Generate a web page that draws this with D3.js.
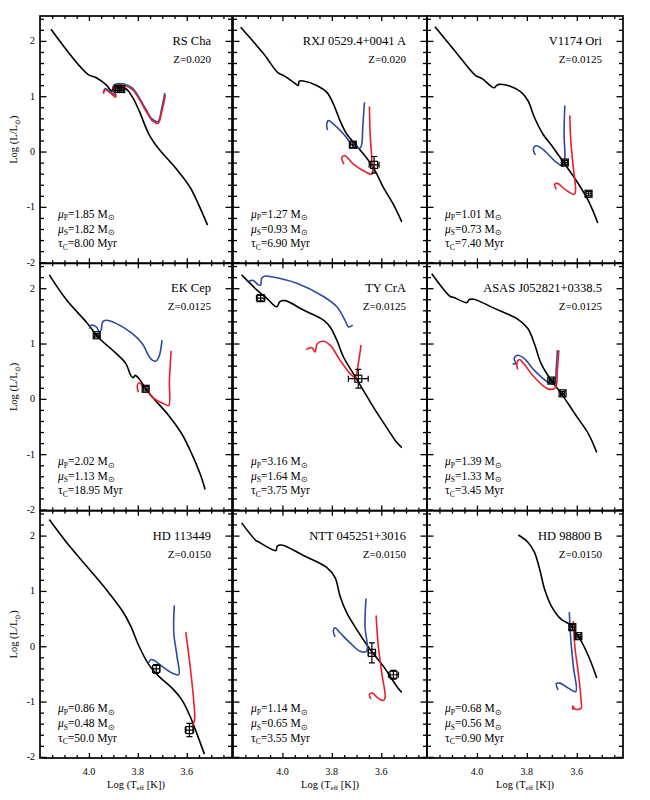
<!DOCTYPE html>
<html><head><meta charset="utf-8">
<script src="https://cdn.jsdelivr.net/npm/d3@7"></script>
<style>
body{margin:0;background:#fff}
svg{display:block}
text{font-family:"Liberation Serif","Times New Roman",serif;fill:#000}
</style>
</head><body>
<svg id="chart" width="650" height="800" font-family="Liberation Serif, Times New Roman, serif"></svg>
<script>
// ---------- DATA ----------
const names = ["RS Cha","RXJ 0529.4+0041 A","V1174 Ori","EK Cep","TY CrA","ASAS J052821+0338.5","HD 113449","NTT 045251+3016","HD 98800 B"];
const zLabels = ["Z=0.020","Z=0.020","Z=0.0125","Z=0.0125","Z=0.0125","Z=0.0125","Z=0.0150","Z=0.0150","Z=0.0150"];
const massP = ["1.85","1.27","1.01","2.02","3.16","1.39","0.86","1.14","0.68"];
const massS = ["1.82","0.93","0.73","1.13","1.64","1.33","0.48","0.65","0.56"];
const ages = ["8.00","6.90","7.40","18.95","3.75","3.45","50.0","3.55","0.90"];

const xTickLabels = [4.0, 3.8, 3.6];
const xMinorTicks = [4.15,4.1,4.05,3.95,3.9,3.85,3.75,3.7,3.65,3.55,3.5,3.45];
const yTickLabels = [-2, -1, 0, 1, 2];
const yMinorTicks = [-1.8,-1.6,-1.4,-1.2,-0.8,-0.6,-0.4,-0.2,0.2,0.4,0.6,0.8,1.2,1.4,1.6,1.8,2.2,2.4];

// isochrones [logTeff, logL]
const isoRSCha = [[4.155,2.21],[4.004,1.395],[3.970,1.335],[3.930,1.21],[3.906,1.09],[3.90,1.17],[3.849,1.135],[3.822,0.983],[3.795,0.74],[3.755,0.317],[3.714,0.045],[3.647,-0.29],[3.586,-0.65],[3.552,-0.955],[3.515,-1.33]];
const isoRXJ = [[4.169,2.245],[4.077,1.772],[4.017,1.42],[3.996,1.377],[3.956,1.256],[3.936,1.195],[3.932,1.274],[3.915,1.274],[3.861,1.195],[3.821,1.074],[3.794,0.863],[3.767,0.559],[3.740,0.317],[3.706,0.135],[3.672,-0.046],[3.632,-0.29],[3.591,-0.654],[3.551,-0.955],[3.517,-1.27]];
const isoV1174 = [[4.168,2.256],[4.080,1.772],[4.006,1.377],[3.979,1.317],[3.932,1.154],[3.921,1.195],[3.911,1.214],[3.864,1.177],[3.823,1.074],[3.796,0.923],[3.77,0.619],[3.736,0.317],[3.695,0.074],[3.648,-0.228],[3.601,-0.532],[3.553,-0.895],[3.516,-1.29]];
const isoEKCep = [[4.162,2.24],[4.092,1.79],[4.011,1.39],[3.957,1.09],[3.903,0.878],[3.849,0.636],[3.829,0.424],[3.819,0.382],[3.811,0.424],[3.795,0.364],[3.768,0.182],[3.728,-0.03],[3.674,-0.30],[3.62,-0.636],[3.579,-1.0],[3.545,-1.36],[3.525,-1.64]];
const isoTYCrA = [[4.165,2.24],[4.104,1.97],[4.064,1.82],[4.023,1.665],[4.01,1.757],[3.989,1.775],[3.915,1.605],[3.834,1.424],[3.807,1.30],[3.78,1.06],[3.753,0.756],[3.713,0.455],[3.672,0.15],[3.632,-0.15],[3.578,-0.52],[3.537,-0.79],[3.517,-0.88]];
const isoASAS = [[4.181,2.26],[4.107,1.85],[4.094,1.835],[4.039,1.74],[4.033,1.79],[4.013,1.80],[3.932,1.64],[3.837,1.44],[3.796,1.27],[3.77,1.0],[3.743,0.636],[3.702,0.33],[3.661,0.09],[3.608,-0.27],[3.553,-0.636],[3.52,-0.97]];
const isoHD113449 = [[4.162,2.29],[4.092,1.88],[4.011,1.455],[3.93,1.03],[3.863,0.636],[3.829,0.364],[3.795,0.0],[3.755,-0.333],[3.714,-0.545],[3.66,-0.757],[3.62,-0.97],[3.586,-1.27],[3.559,-1.575],[3.528,-1.95]];
const isoNTT = [[4.165,2.23],[4.107,1.91],[4.098,1.89],[4.026,1.73],[4.021,1.81],[4.003,1.83],[3.915,1.64],[3.821,1.425],[3.787,1.24],[3.767,0.91],[3.74,0.606],[3.699,0.30],[3.645,-0.06],[3.591,-0.364],[3.537,-0.727],[3.517,-0.836]];
const isoHD98800 = [[3.834,2.01],[3.796,1.88],[3.77,1.70],[3.749,1.395],[3.729,1.03],[3.702,0.727],[3.662,0.485],[3.628,0.394],[3.594,0.182],[3.553,-0.18],[3.52,-0.575]];

// primary tracks (blue)
const priRSCha = [[3.690,1.06],[3.703,0.77],[3.718,0.54],[3.742,0.59],[3.768,0.77],[3.795,0.98],[3.822,1.145],[3.856,1.22],[3.89,1.22],[3.90,1.18],[3.89,1.01],[3.917,1.10],[3.933,1.14],[3.941,1.07]];
const priRXJ = [[3.668,0.892],[3.675,0.437],[3.679,0.135],[3.686,0.062],[3.713,0.105],[3.753,0.317],[3.794,0.499],[3.814,0.559],[3.821,0.468],[3.817,0.39]];
const priV1174 = [[3.648,0.832],[3.651,0.317],[3.648,-0.108],[3.655,-0.259],[3.689,-0.168],[3.729,0.014],[3.763,0.105],[3.774,0.045],[3.766,-0.059]];
const priEKCep = [[3.701,1.06],[3.714,0.756],[3.728,0.678],[3.748,0.727],[3.782,1.0],[3.822,1.18],[3.889,1.364],[3.93,1.42],[3.944,1.39],[3.95,1.24],[3.957,1.21],[3.97,1.30],[3.991,1.33],[3.998,1.27]];
const priTYCrA = [[3.715,1.333],[3.733,1.30],[3.747,1.424],[3.78,1.665],[3.834,1.85],[3.942,2.09],[4.05,2.21],[4.07,2.22],[4.084,2.18],[4.088,2.06],[4.098,2.06],[4.118,2.14],[4.138,2.12]];
const priASAS = [[3.678,0.878],[3.683,0.514],[3.689,0.27],[3.715,0.30],[3.77,0.514],[3.81,0.727],[3.837,0.787],[3.851,0.727],[3.844,0.636],[3.857,0.636]];
const priHD113449 = [[3.651,0.74],[3.653,0.243],[3.64,-0.18],[3.633,-0.515],[3.66,-0.485],[3.701,-0.364],[3.734,-0.255],[3.748,-0.242],[3.755,-0.30]];
const priNTT = [[3.662,0.86],[3.666,0.364],[3.659,-0.09],[3.686,-0.09],[3.726,0.06],[3.767,0.243],[3.787,0.333],[3.794,0.273],[3.787,0.17]];
const priHD98800 = [[3.63,0.618],[3.624,0.12],[3.614,-0.364],[3.604,-0.818],[3.634,-0.757],[3.668,-0.666],[3.682,-0.678],[3.675,-0.787]];

// secondary tracks (red)
const secRSCha = [[3.687,1.026],[3.701,0.741],[3.717,0.51],[3.741,0.56],[3.768,0.74],[3.795,0.953],[3.822,1.117],[3.856,1.195],[3.89,1.195],[3.90,1.154],[3.89,0.983],[3.917,1.074],[3.933,1.117],[3.941,1.045]];
const secRXJ = [[3.648,0.814],[3.645,0.317],[3.638,-0.168],[3.638,-0.41],[3.659,-0.38],[3.713,-0.228],[3.747,-0.077],[3.76,-0.108],[3.751,-0.228]];
const secV1174 = [[3.628,0.65],[3.624,0.195],[3.614,-0.29],[3.605,-0.714],[3.61,-0.774],[3.648,-0.683],[3.675,-0.58],[3.689,-0.593],[3.682,-0.683]];
const secEKCep = [[3.664,0.866],[3.671,0.333],[3.674,-0.12],[3.694,-0.09],[3.741,0.03],[3.775,0.21],[3.795,0.29],[3.802,0.24],[3.798,0.12]];
const secTYCrA = [[3.682,0.97],[3.693,0.636],[3.706,0.39],[3.726,0.455],[3.767,0.70],[3.807,0.97],[3.834,1.04],[3.859,0.995],[3.868,0.848],[3.881,0.926],[3.904,0.89]];
const secASAS = [[3.672,0.878],[3.678,0.514],[3.686,0.20],[3.715,0.18],[3.77,0.39],[3.81,0.62],[3.83,0.71],[3.84,0.636],[3.837,0.53]];
const secHD113449 = [[3.604,0.255],[3.586,-0.364],[3.572,-0.97],[3.568,-1.333],[3.577,-1.44]];
const secNTT = [[3.621,0.558],[3.612,0.0],[3.598,-0.485],[3.585,-0.94],[3.594,-0.98],[3.618,-0.92],[3.634,-0.85],[3.648,-0.866],[3.642,-0.957]];
const secHD98800 = [[3.614,0.455],[3.608,0.0],[3.594,-0.485],[3.583,-0.97],[3.583,-1.12],[3.605,-1.14],[3.617,-1.08],[3.614,-1.15]];

// observed components [logTeff, logL, errTeff, errL]
const obsRSCha = [[3.883,1.135,0.008,0.03],[3.868,1.13,0.008,0.03]];
const obsRXJ = [[3.715,0.123,0.01,0.05],[3.629,-0.24,0.02,0.15]];
const obsV1174 = [[3.648,-0.199,0.01,0.04],[3.553,-0.763,0.01,0.04]];
const obsEKCep = [[3.968,1.15,0.01,0.03],[3.768,0.182,0.01,0.04]];
const obsTYCrA = [[4.088,1.82,0.017,0.05],[3.693,0.364,0.04,0.17]];
const obsASAS = [[3.702,0.33,0.008,0.03],[3.657,0.10,0.008,0.03]];
const obsHD113449 = [[3.725,-0.41,0.015,0.08],[3.589,-1.515,0.017,0.12]];
const obsNTT = [[3.638,-0.12,0.015,0.18],[3.551,-0.515,0.02,0.08]];
const obsHD98800 = [[3.618,0.345,0.01,0.05],[3.594,0.182,0.01,0.03]];

const isochrones = [isoRSCha,isoRXJ,isoV1174,isoEKCep,isoTYCrA,isoASAS,isoHD113449,isoNTT,isoHD98800];
const primaries = [priRSCha,priRXJ,priV1174,priEKCep,priTYCrA,priASAS,priHD113449,priNTT,priHD98800];
const secondaries = [secRSCha,secRXJ,secV1174,secEKCep,secTYCrA,secASAS,secHD113449,secNTT,secHD98800];
const observed = [obsRSCha,obsRXJ,obsV1174,obsEKCep,obsTYCrA,obsASAS,obsHD113449,obsNTT,obsHD98800];

// ---------- LAYOUT ----------
const colLeft = [40, 233, 427], colRight = [232, 427, 623];
const rowTop = [16, 263.3, 510.7], rowH = 247.3;
const BLUE = "#2b4aa0", RED = "#e8202c";

const svg = d3.select("#chart");

names.forEach((name, i) => {
  const r = Math.floor(i / 3), c = i % 3;
  const w = colRight[c] - colLeft[c];
  const x = d3.scaleLinear().domain([4.2, 3.415]).range([0, w]);
  const y = d3.scaleLinear().domain([-2.02, 2.45]).range([rowH, 0]);
  const g = svg.append("g").attr("transform", `translate(${colLeft[c]},${rowTop[r]})`);

  const clipId = "clip" + i;
  g.append("clipPath").attr("id", clipId).append("rect").attr("width", w).attr("height", rowH);
  const plot = g.append("g").attr("clip-path", `url(#${clipId})`);

  const line = d3.line().x(d => x(d[0])).y(d => y(d[1])).curve(d3.curveCatmullRom.alpha(0.5));

  plot.append("path").attr("d", line(isochrones[i])).attr("fill", "none").attr("stroke", "#000").attr("stroke-width", 1.6);
  plot.append("path").attr("d", line(primaries[i])).attr("fill", "none").attr("stroke", BLUE).attr("stroke-width", 1.6);
  plot.append("path").attr("d", line(secondaries[i])).attr("fill", "none").attr("stroke", RED).attr("stroke-width", 1.6);

  // observed points
  observed[i].forEach(o => {
    const cx = x(o[0]), cy = y(o[1]);
    const x1 = x(o[0] + o[2]), x2 = x(o[0] - o[2]);
    const y1 = y(o[1] + o[3]), y2 = y(o[1] - o[3]);
    const m = plot.append("g").attr("stroke", "#000").attr("stroke-width", 1.2).attr("fill", "none");
    m.append("rect").attr("x", cx - 3.5).attr("y", cy - 3.5).attr("width", 7).attr("height", 7);
    m.append("line").attr("x1", x1).attr("x2", x2).attr("y1", cy).attr("y2", cy);
    m.append("line").attr("x1", cx).attr("x2", cx).attr("y1", y1).attr("y2", y2);
    m.append("line").attr("x1", cx - 3).attr("x2", cx + 3).attr("y1", y1).attr("y2", y1);
    m.append("line").attr("x1", cx - 3).attr("x2", cx + 3).attr("y1", y2).attr("y2", y2);
    m.append("line").attr("x1", x1).attr("x2", x1).attr("y1", cy - 3).attr("y2", cy + 3);
    m.append("line").attr("x1", x2).attr("x2", x2).attr("y1", cy - 3).attr("y2", cy + 3);
  });

  // ticks (inward, all sides)
  const tickGroups = [
    [d3.axisBottom(x).tickValues(xTickLabels).tickSize(-5), `translate(0,${rowH})`],
    [d3.axisBottom(x).tickValues(xMinorTicks).tickSize(-3), `translate(0,${rowH})`],
    [d3.axisTop(x).tickValues(xTickLabels).tickSize(-5), `translate(0,0)`],
    [d3.axisTop(x).tickValues(xMinorTicks).tickSize(-3), `translate(0,0)`],
    [d3.axisLeft(y).tickValues(yTickLabels).tickSize(-6.5), `translate(0,0)`],
    [d3.axisLeft(y).tickValues(yMinorTicks).tickSize(-4), `translate(0,0)`],
    [d3.axisRight(y).tickValues(yTickLabels).tickSize(-6.5), `translate(${w},0)`],
    [d3.axisRight(y).tickValues(yMinorTicks).tickSize(-4), `translate(${w},0)`]
  ];
  tickGroups.forEach(([ax, tr]) => {
    const a = g.append("g").attr("transform", tr).call(ax.tickFormat(""));
    a.select(".domain").remove();
    a.selectAll("line").attr("stroke", "#000").attr("stroke-width", 1.3);
  });

  // frame
  g.append("rect").attr("width", w).attr("height", rowH).attr("fill", "none").attr("stroke", "#000").attr("stroke-width", 1.7);

  // tick labels
  if (r === 2) {
    xTickLabels.forEach(v => {
      g.append("text").attr("x", x(v)).attr("y", rowH + 17.5).attr("text-anchor", "middle")
        .attr("font-size", 10).text(d3.format(".1f")(v));
    });
    const t = g.append("text").attr("x", w / 2).attr("y", rowH + 30).attr("text-anchor", "middle").attr("font-size", 10.5);
    t.append("tspan").text("Log (T");
    t.append("tspan").attr("font-size", 7).attr("dy", 2.5).text("eff");
    t.append("tspan").attr("dy", -2.5).text(" [K])");
  }
  if (c === 0) {
    yTickLabels.forEach(v => {
      g.append("text").attr("x", -5).attr("y", y(v) + 3.5).attr("text-anchor", "end")
        .attr("font-size", 10).text(v);
    });
    const t = g.append("text").attr("transform", `translate(-23,${rowH / 2}) rotate(-90)`)
      .attr("text-anchor", "middle").attr("font-size", 10.5);
    t.append("tspan").text("Log (L/L");
    t.append("tspan").attr("font-size", 7).attr("dy", 2.5).text("\u2299");
    t.append("tspan").attr("dy", -2.5).text(")");
  }

  // labels
  g.append("text").attr("x", w - 21).attr("y", 29).attr("text-anchor", "end").attr("font-size", 12.5).text(name);
  g.append("text").attr("x", w - 21).attr("y", 47).attr("text-anchor", "end").attr("font-size", 11).text(zLabels[i]);

  const lines = [["\u03bc", "P", "=" + massP[i] + " M", true], ["\u03bc", "S", "=" + massS[i] + " M", true], ["\u03c4", "C", "=" + ages[i] + " Myr", false]];
  lines.forEach((L, k) => {
    const t = g.append("text").attr("x", 18).attr("y", rowH - 45.5 + k * 14.7).attr("font-size", 11.5);
    t.append("tspan").attr("font-style", L[3] ? "italic" : "normal").text(L[0]);
    t.append("tspan").attr("font-size", 7.5).attr("dy", 2.5).text(L[1]);
    t.append("tspan").attr("dy", -2.5).text(L[2]);
    if (L[3]) t.append("tspan").attr("font-size", 7.5).attr("dy", 2.5).text("\u2299");
  });
});
</script>
</body></html>
